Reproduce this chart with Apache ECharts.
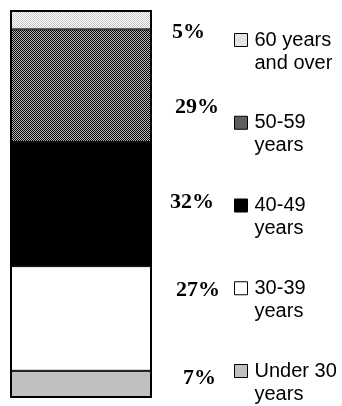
<!DOCTYPE html>
<html>
<head>
<meta charset="utf-8">
<script src="https://cdn.jsdelivr.net/npm/echarts@6/dist/echarts.min.js"></script>
<style>
  html, body { margin: 0; padding: 0; background: #fff; }
  #chart { width: 342px; height: 406px; }
</style>
</head>
<body>
<div id="chart"></div>
<script>
// Age groups, stacked from the bottom of the column upward
const ageGroups = ['Under 30\nyears', '30-39\nyears', '40-49\nyears', '50-59\nyears', '60 years\nand over'];
// Share of staff in each group, percent
const shares = [7, 27, 32, 29, 5];
const total = shares.reduce((s, v) => s + v, 0);

// Small tiled fills for the textured segments
function tile(a, b) {
  const c = document.createElement('canvas');
  c.width = 2; c.height = 2;
  const g = c.getContext('2d');
  g.fillStyle = a; g.fillRect(0, 0, 2, 2);
  g.fillStyle = b; g.fillRect(0, 0, 1, 1); g.fillRect(1, 1, 1, 1);
  return { image: c, repeat: 'repeat' };
}

const fills = [
  '#c0c0c0',
  '#ffffff',
  '#000000',
  tile('#bdbdbd', '#000000'),
  tile('#ffffff', '#c8c8c8')
];

// Percentage labels sit beside the legend entries rather than the segment centres
const labelShift = [[31, -6], [24, -28], [18, -2], [23, 22], [20, 13]];

const chart = echarts.init(document.getElementById('chart'), null, { renderer: 'canvas' });

const segments = ageGroups.map((name, i) => ({
  name: name,
  type: 'bar',
  stack: 'age',
  barWidth: '100%',
  barGap: '-100%',
  data: [shares[i]],
  itemStyle: { color: fills[i], borderColor: '#000', borderWidth: 1 },
  label: {
    show: true,
    position: 'right',
    distance: 0,
    offset: labelShift[i],
    formatter: '{c}%',
    fontFamily: 'Liberation Serif, Times New Roman, serif',
    fontWeight: 'bold',
    fontSize: 22,
    color: '#000'
  }
}));

// Outline round the whole column
const outline = {
  name: 'total',
  type: 'bar',
  barWidth: '100%',
  barGap: '-100%',
  silent: true,
  z: 5,
  data: [total],
  itemStyle: { color: 'rgba(0,0,0,0)', borderColor: '#000', borderWidth: 2 },
  label: { show: false }
};

chart.setOption({
  animation: false,
  grid: { left: 10, right: 190, top: 10, bottom: 8 },
  xAxis: { type: 'category', data: [''], show: false },
  yAxis: { type: 'value', min: 0, max: 100, show: false },
  legend: {
    orient: 'vertical',
    left: 234,
    top: 5.5,
    height: 430,
    padding: 0,
    icon: 'rect',
    itemWidth: 13,
    itemHeight: 13,
    itemGap: 13.75,
    selectedMode: false,
    data: ageGroups.slice().reverse(),
    // a blank first line keeps the marker level with the first line of each entry
    formatter: name => '\n' + name,
    itemStyle: { borderColor: '#000', borderWidth: 1 },
    textStyle: {
      fontFamily: 'Liberation Sans, Arial, sans-serif',
      fontSize: 20,
      lineHeight: 23,
      color: '#000',
      padding: [0, 0, 0, 2]
    }
  },
  series: segments.concat([outline])
});
</script>
</body>
</html>
